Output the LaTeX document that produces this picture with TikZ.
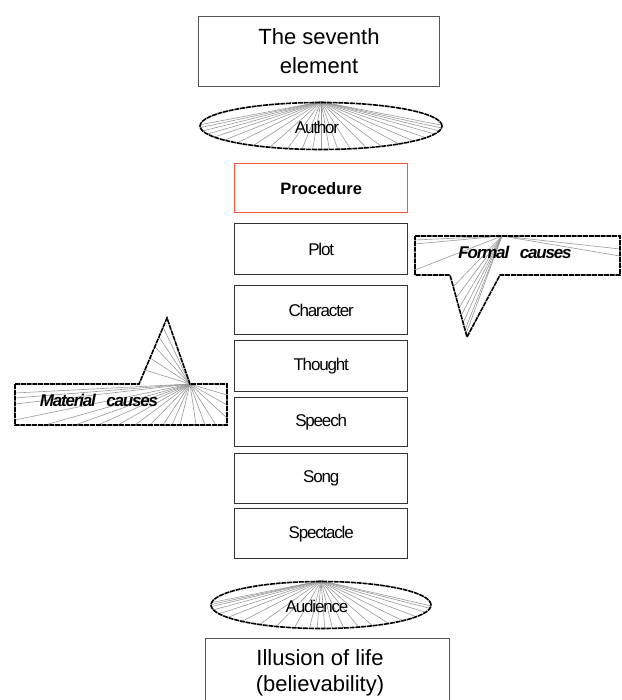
\documentclass[tikz,border=0pt]{standalone}
\usepackage{fontspec}
\setmainfont{Liberation Sans}
\newfontfamily\tightfont[LetterSpace=-7]{Liberation Sans}
\usetikzlibrary{shapes.geometric,backgrounds,calc}
\definecolor{boxgray}{HTML}{333333}
\definecolor{framegray}{HTML}{555555}
\definecolor{fangray}{HTML}{999999}
\definecolor{procred}{HTML}{F2583A}
\begin{document}
\begin{tikzpicture}[x=1pt,y=-1pt,
  elem/.style={draw=boxgray, line width=1.3pt, minimum width=173pt, anchor=north west, inner sep=0pt,
    font=\tightfont\fontsize{17}{20}\selectfont},
  bigbox/.style={draw=framegray, line width=1pt, anchor=north west, inner sep=0pt, align=center,
    font=\fontsize{22}{29}\selectfont},
  rough/.style={draw=black, line width=1.6pt, dash pattern=on 5pt off 0.8pt},
  fan/.style={draw=fangray, line width=0.6pt},
  ovallabel/.style={font=\tightfont\fontsize{17}{20}\selectfont, inner sep=0pt},
  causelabel/.style={font=\tightfont\fontsize{17}{20}\selectfont\bfseries\itshape, inner sep=0pt}
]
\useasboundingbox (0,0) rectangle (621,700);

% top box
\node[bigbox, minimum width=241pt, minimum height=70pt] (seventh) at (198,16) {The seventh\\element};

% Author ellipse
\node[ellipse, rough, minimum width=242pt, minimum height=47pt, inner sep=0pt] (author) at (321,126) {};
\begin{scope}[on background layer]
\foreach \a in {183,176,168,160,152,143,134,124,115,106,99,94,90,86,82,76,68,60,50,40,30,20,12,5,-2}
  \draw[fan] (author.north) -- ($(author.center)+({121*cos(\a)},{23.5*sin(\a)})$);
\end{scope}
\node[ovallabel] (authortxt) at (317,127) {Author};

% element boxes
\node[elem, draw=procred, minimum height=49pt, font=\fontsize{16.5}{20}\selectfont\bfseries] (procedure) at (234,163) {Procedure};
\node[elem, minimum height=51pt] (plot) at (234,223) {Plot};
\node[elem, minimum height=49pt] (character) at (234,285) {Character};
\node[elem, minimum height=51pt] (thought) at (234,340) {Thought};
\node[elem, minimum height=49pt] (speech) at (234,397) {Speech};
\node[elem, minimum height=50pt] (song) at (234,453) {Song};
\node[elem, minimum height=50pt] (spectacle) at (234,508) {Spectacle};

% Formal causes callout
\coordinate (f0) at (502,236);
\path[fill=white] (415,236) -- (620,236) -- (620,275) -- (500,275) -- (467,337) -- (450,275) -- (415,275) -- cycle;
\foreach \p in {(415,240),(415,244),(415,270),(620,249),(620,256),(453,287),(456,298),(459,308),(461,316),(463,323),(465,330),(466,334)}
  \draw[fan] (f0) -- \p;
\draw[rough] (415,236) -- (620,236) -- (620,275) -- (500,275) -- (467,337) -- (450,275) -- (415,275) -- cycle;
\node[causelabel] (formal) at (515,252) {Formal\ \ \ causes};

% Material causes callout
\coordinate (m0) at (190,384);
\path[fill=white] (15,384) -- (139,384) -- (167,318) -- (190,384) -- (227,384) -- (227,425) -- (15,425) -- cycle;
\foreach \p in {(145,370),(150,358),(155,347),(159,337),(163,327),(15,393),(15,398),(15,404),(15,420),(45,425),(75,425),(98,425),(118,425),(135,425),(150,425),(163,425),(172,425),(180,425),(196,425),(205,425),(216,425),(227,395),(227,405),(227,418)}
  \draw[fan] (m0) -- \p;
\draw[rough] (15,384) -- (139,384) -- (167,318) -- (190,384) -- (227,384) -- (227,425) -- (15,425) -- cycle;
\node[causelabel] (material) at (99,400) {Material\ \ \ causes};

% Audience ellipse
\node[ellipse, rough, minimum width=220pt, minimum height=47pt, inner sep=0pt] (audience) at (321,605) {};
\begin{scope}[on background layer]
\foreach \a in {186,181,176,168,158,148,136,124,114,104,96,92,88,84,78,70,62,52,42,30,18,8,2}
  \draw[fan] (audience.north) -- ($(audience.center)+({110*cos(\a)},{23.5*sin(\a)})$);
\end{scope}
\node[ovallabel] (audiencetxt) at (317,606) {Audience};

% bottom box
\node[bigbox, minimum width=244pt, minimum height=70pt] (illusion) at (205,638) {};
\node[align=center, inner sep=0pt, font=\fontsize{22}{26}\selectfont] (illusiontxt) at (320,673) {Illusion of life\\(believability)};
\end{tikzpicture}
\end{document}
